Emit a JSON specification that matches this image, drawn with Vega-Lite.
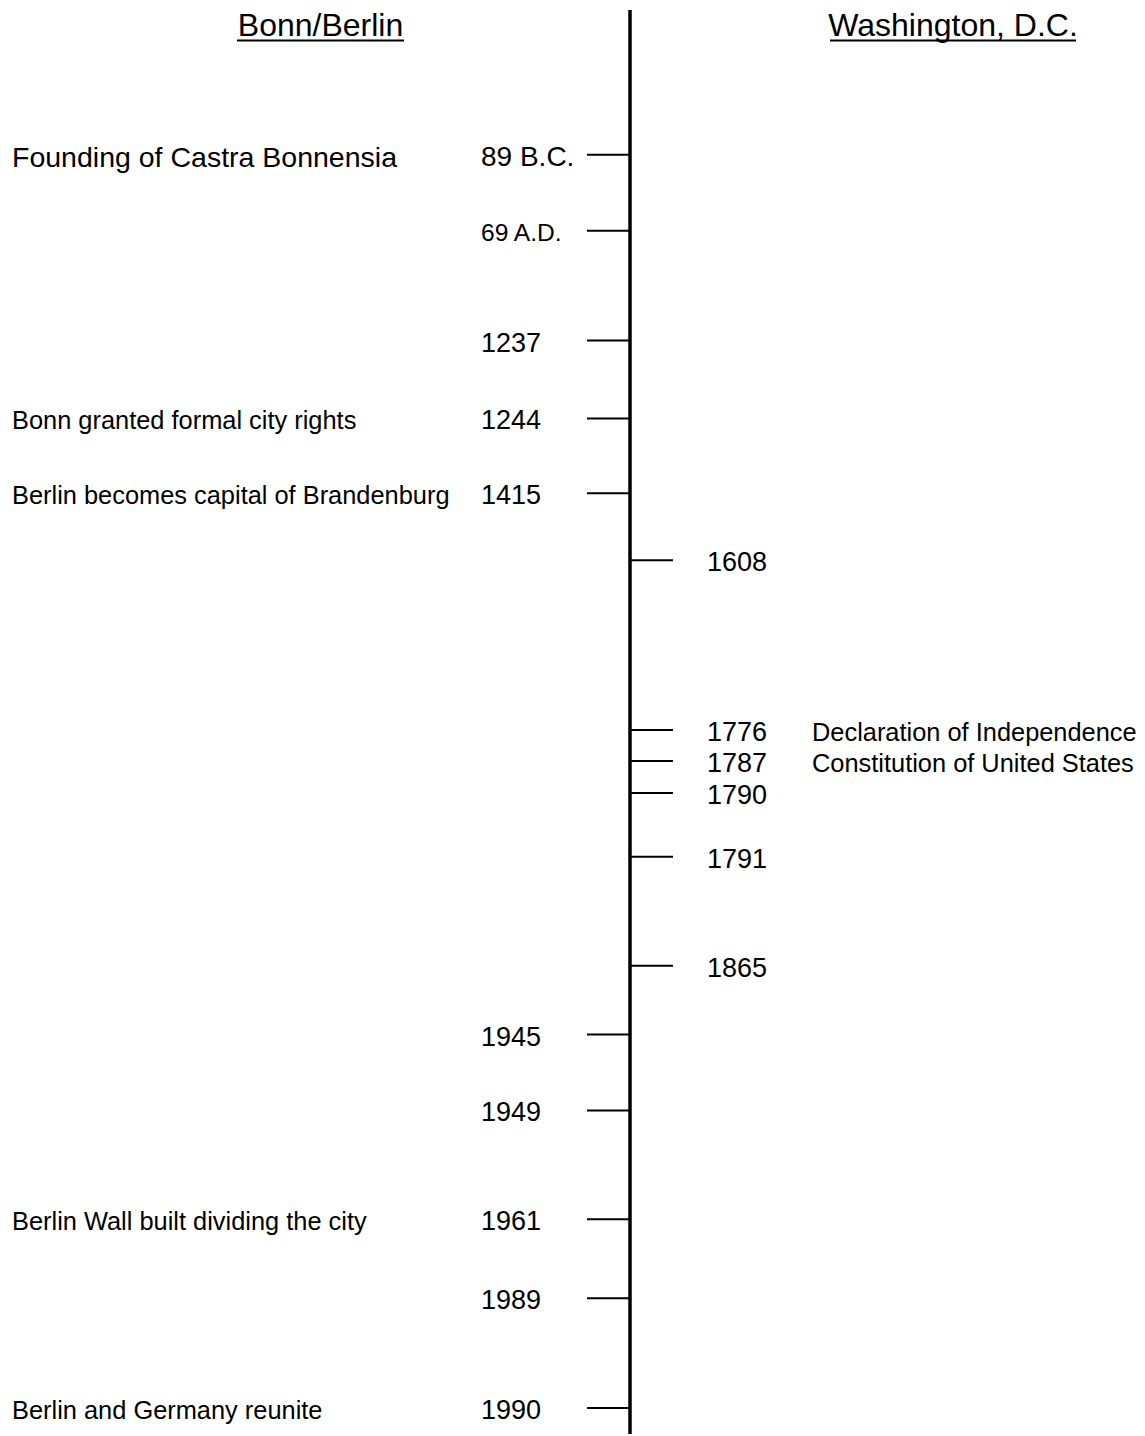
{
  "$schema": "https://vega.github.io/schema/vega-lite/v6.json",
  "width": 1145,
  "height": 1436,
  "autosize": {"type": "fit", "contains": "padding"},
  "padding": 0,
  "background": "white",
  "config": {"view": {"stroke": null}, "text": {"font": "Liberation Sans", "color": "black"}},
  "datasets": {
    "events": [
      {"year": "89 B.C.", "side": "left", "event": "Founding of Castra Bonnensia", "slot": 155},
      {"year": "69 A.D.", "side": "left", "event": "", "slot": 231},
      {"year": "1237", "side": "left", "event": "", "slot": 341},
      {"year": "1244", "side": "left", "event": "Bonn granted formal city rights", "slot": 419},
      {"year": "1415", "side": "left", "event": "Berlin becomes capital of Brandenburg", "slot": 494},
      {"year": "1608", "side": "right", "event": "", "slot": 561},
      {"year": "1776", "side": "right", "event": "Declaration of Independence", "slot": 731},
      {"year": "1787", "side": "right", "event": "Constitution of United States", "slot": 762},
      {"year": "1790", "side": "right", "event": "", "slot": 794},
      {"year": "1791", "side": "right", "event": "", "slot": 858},
      {"year": "1865", "side": "right", "event": "", "slot": 967},
      {"year": "1945", "side": "left", "event": "", "slot": 1036},
      {"year": "1949", "side": "left", "event": "", "slot": 1112},
      {"year": "1961", "side": "left", "event": "Berlin Wall built dividing the city", "slot": 1221},
      {"year": "1989", "side": "left", "event": "", "slot": 1300},
      {"year": "1990", "side": "left", "event": "Berlin and Germany reunite", "slot": 1410}
    ],
    "headers": [
      {"side": "left", "title": "Bonn/Berlin"},
      {"side": "right", "title": "Washington, D.C."}
    ]
  },
  "resolve": {"scale": {"x": "independent", "size": "independent"}},
  "layer": [
    {
      "data": {"name": "headers"},
      "mark": {"type": "rule", "color": "black", "strokeWidth": 3},
      "encoding": {
        "x": {"datum": "center", "type": "nominal", "scale": {"type": "point", "domain": ["left", "center", "right"], "range": [587, 673], "padding": 0}, "axis": null},
        "y": {"datum": 10, "type": "quantitative", "scale": {"domain": [0, 1436], "reverse": true, "nice": false, "zero": false}, "axis": null},
        "y2": {"datum": 1436}
      }
    },
    {
      "data": {"name": "events"},
      "mark": {"type": "rule", "color": "black", "strokeWidth": 2},
      "encoding": {
        "x": {"field": "side", "type": "nominal", "scale": {"type": "point", "domain": ["left", "center", "right"], "range": [587, 673], "padding": 0}, "axis": null},
        "x2": {"datum": "center"},
        "y": {"field": "slot", "type": "quantitative", "scale": {"domain": [0, 1436], "reverse": true, "nice": false, "zero": false}, "axis": null}
      }
    },
    {
      "data": {"name": "events"},
      "mark": {"type": "text", "align": "left", "baseline": "middle", "dy": 3},
      "encoding": {
        "x": {"field": "side", "type": "nominal", "scale": {"type": "point", "domain": ["left", "right"], "range": [481, 707], "padding": 0}, "axis": null},
        "y": {"field": "slot", "type": "quantitative", "scale": {"domain": [0, 1436], "reverse": true, "nice": false, "zero": false}, "axis": null},
        "text": {"field": "year"},
        "size": {"condition": [{"test": "datum.year == '69 A.D.'", "value": 24.6}, {"test": "datum.year == '89 B.C.'", "value": 28}], "value": 27}
      }
    },
    {
      "data": {"name": "events"},
      "transform": [{"filter": "datum.event != ''"}],
      "mark": {"type": "text", "align": "left", "baseline": "middle", "dy": 3},
      "encoding": {
        "x": {"field": "side", "type": "nominal", "scale": {"type": "point", "domain": ["left", "right"], "range": [12, 812], "padding": 0}, "axis": null},
        "y": {"field": "slot", "type": "quantitative", "scale": {"domain": [0, 1436], "reverse": true, "nice": false, "zero": false}, "axis": null},
        "text": {"field": "event"},
        "size": {"condition": {"test": "datum.event == 'Founding of Castra Bonnensia'", "value": 28.5}, "value": 25.4}
      }
    },
    {
      "data": {"name": "headers"},
      "mark": {"type": "text", "align": "center", "baseline": "alphabetic", "fontSize": 32},
      "encoding": {
        "x": {"field": "side", "type": "nominal", "scale": {"type": "point", "domain": ["left", "right"], "range": [320.5, 953], "padding": 0}, "axis": null},
        "y": {"datum": 36, "type": "quantitative", "scale": {"domain": [0, 1436], "reverse": true, "nice": false, "zero": false}, "axis": null},
        "text": {"field": "title"}
      }
    },
    {
      "data": {"name": "headers"},
      "mark": {"type": "tick", "orient": "horizontal", "color": "black", "thickness": 2, "opacity": 1},
      "encoding": {
        "x": {"field": "side", "type": "nominal", "scale": {"type": "point", "domain": ["left", "right"], "range": [320.5, 953], "padding": 0}, "axis": null},
        "y": {"datum": 40.5, "type": "quantitative", "scale": {"domain": [0, 1436], "reverse": true, "nice": false, "zero": false}, "axis": null},
        "size": {"field": "side", "type": "ordinal", "scale": {"domain": ["left", "right"], "range": [167, 246]}, "legend": null}
      }
    }
  ]
}
